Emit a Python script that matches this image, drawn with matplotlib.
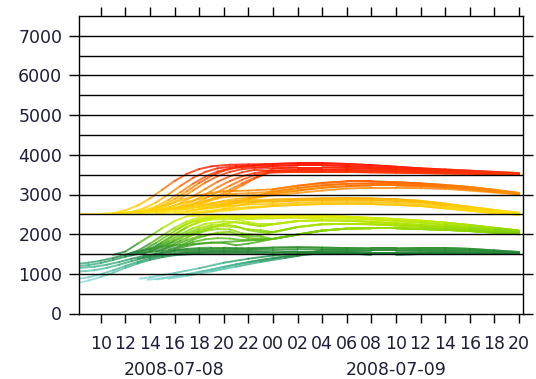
import numpy as np
import matplotlib
matplotlib.use("Agg")
import matplotlib.pyplot as plt
from matplotlib.collections import LineCollection
from matplotlib.colors import LinearSegmentedColormap, Normalize
from matplotlib.transforms import blended_transform_factory

# x in hours counted from 2008-07-08 00:00
tail_t = [24, 26, 28, 30, 32, 34, 36, 38, 40, 42, 44]

# shared tails of each bundle (after the runs converge)
red_tail_a = [3770, 3790, 3790, 3770, 3740, 3700, 3660, 3630, 3600, 3570, 3540]
red_tail_b = [3720, 3740, 3740, 3720, 3690, 3660, 3630, 3600, 3580, 3550, 3530]
red_tail_c = [3660, 3680, 3680, 3670, 3650, 3620, 3600, 3580, 3560, 3540, 3520]
red_tail_d = [3600, 3620, 3620, 3620, 3600, 3590, 3570, 3560, 3540, 3530, 3510]
red_tail_e = [3560, 3570, 3570, 3570, 3560, 3550, 3540, 3530, 3520, 3510, 3500]

orange_tail_a = [3130, 3220, 3290, 3330, 3330, 3310, 3280, 3240, 3190, 3120, 3040]
orange_tail_b = [3070, 3160, 3230, 3270, 3280, 3270, 3250, 3210, 3160, 3100, 3030]
orange_tail_c = [3020, 3100, 3170, 3210, 3230, 3230, 3210, 3180, 3130, 3070, 3010]
orange_tail_d = [2980, 3040, 3100, 3150, 3170, 3170, 3160, 3140, 3100, 3050, 3000]

yellow_tail_a = [2870, 2890, 2900, 2910, 2900, 2880, 2840, 2770, 2690, 2610, 2540]
yellow_tail_b = [2820, 2850, 2860, 2870, 2860, 2840, 2800, 2730, 2650, 2580, 2520]
yellow_tail_c = [2760, 2790, 2810, 2820, 2810, 2790, 2750, 2690, 2620, 2550, 2500]
yellow_tail_d = [2710, 2740, 2760, 2770, 2760, 2740, 2710, 2650, 2590, 2530, 2490]

lime_tail_a = [2470, 2470, 2460, 2440, 2410, 2380, 2340, 2290, 2230, 2160, 2090]
lime_tail_b = [2400, 2420, 2420, 2400, 2370, 2330, 2290, 2240, 2180, 2120, 2060]
lime_tail_c = [2250, 2330, 2350, 2340, 2310, 2270, 2230, 2190, 2140, 2090, 2040]
lime_tail_d = [2050, 2180, 2250, 2260, 2250, 2220, 2190, 2150, 2110, 2060, 2020]
lime_tail_e = [1880, 1990, 2090, 2140, 2150, 2150, 2130, 2110, 2080, 2040, 2000]

green_tail_a = [1660, 1670, 1660, 1650, 1640, 1640, 1650, 1650, 1630, 1590, 1550]
green_tail_b = [1600, 1620, 1610, 1600, 1590, 1590, 1600, 1600, 1590, 1560, 1530]
green_tail_c = [1540, 1560, 1560, 1550, 1530, 1530, 1540, 1550, 1540, 1530, 1520]
green_tail_d = [1490, 1520, 1520, 1510, 1490, 1490, 1500, 1510, 1510, 1500, 1500]

# early part of each run: (hours, values, tail)
red_runs = [
    ([8.3, 10, 11, 12, 13, 14, 15, 16, 17, 18, 19, 20.5, 22],
     [2510, 2510, 2530, 2600, 2720, 2900, 3120, 3340, 3520, 3640, 3710, 3750, 3760], red_tail_a),
    ([11, 12.5, 13.5, 14.5, 15.5, 16.5, 17.5, 18.5, 19.5, 21, 22.5],
     [2530, 2560, 2650, 2800, 3000, 3220, 3420, 3570, 3660, 3720, 3730], red_tail_b),
    ([12, 13.5, 14.5, 15.5, 16.5, 17.5, 18.5, 19.5, 20.5, 22],
     [2540, 2590, 2700, 2860, 3060, 3270, 3450, 3580, 3660, 3700], red_tail_c),
    ([12.5, 14, 15, 16, 17, 18, 19, 20, 21, 22.5],
     [2550, 2610, 2720, 2880, 3080, 3290, 3470, 3600, 3680, 3740], red_tail_a),
    ([13, 14.5, 15.5, 16.5, 17.5, 18.5, 19.5, 20.5, 21.5, 23],
     [2560, 2620, 2740, 2900, 3100, 3300, 3460, 3570, 3640, 3680], red_tail_b),
    ([14, 15.5, 16.5, 17.5, 18.5, 19.5, 20.5, 21.5, 22.5],
     [2580, 2660, 2780, 2950, 3140, 3320, 3460, 3560, 3620], red_tail_d),
    ([15, 16.5, 17.5, 18.5, 19.5, 20.5, 21.5, 22.5, 23.5],
     [2600, 2700, 2830, 3000, 3180, 3340, 3460, 3540, 3590], red_tail_e),
    ([16, 17.5, 18.5, 19.5, 20.5, 21.5, 22.5, 23.5],
     [2640, 2760, 2900, 3060, 3220, 3370, 3490, 3560], red_tail_c),
    ([17, 18.5, 19.5, 20.5, 21.5, 22.5, 23.5],
     [2700, 2820, 2960, 3120, 3280, 3420, 3530], red_tail_e),
    ([18, 19.5, 20.5, 21.5, 22.5, 23.5],
     [2760, 2900, 3060, 3230, 3400, 3540], red_tail_d),
]

orange_runs = [
    ([12.5, 14, 15, 16, 17, 18, 19, 20, 21, 22],
     [2550, 2610, 2700, 2800, 2900, 2980, 3040, 3080, 3090, 3100], orange_tail_a),
    ([13.5, 15, 16, 17, 18, 19, 20, 21, 22],
     [2560, 2630, 2720, 2810, 2890, 2960, 3000, 3020, 3030], orange_tail_b),
    ([15, 16.5, 17.5, 18.5, 19.5, 20.5, 22],
     [2600, 2680, 2760, 2840, 2910, 2950, 2970], orange_tail_c),
    ([16.5, 18, 19, 20, 21, 22, 23],
     [2620, 2700, 2770, 2840, 2890, 2920, 2950], orange_tail_d),
    ([18, 19.5, 20.5, 21.5, 22.5, 23.5],
     [2640, 2730, 2800, 2860, 2910, 2960], orange_tail_c),
    ([19, 20.5, 21.5, 22.5, 23.5],
     [2660, 2760, 2850, 2930, 3000], orange_tail_a),
    ([20, 21, 22, 23],
     [2700, 2800, 2900, 2990], orange_tail_b),
]

yellow_runs = [
    ([11.5, 13, 14.5, 16, 17.5, 19, 20.5, 22],
     [2520, 2540, 2580, 2640, 2710, 2780, 2830, 2860], yellow_tail_a),
    ([13, 14.5, 16, 17.5, 19, 20.5, 22],
     [2520, 2550, 2600, 2660, 2730, 2780, 2810], yellow_tail_b),
    ([14.5, 16, 17.5, 19, 20.5, 22],
     [2520, 2550, 2600, 2660, 2710, 2750], yellow_tail_c),
    ([16, 17.5, 19, 20.5, 22],
     [2520, 2550, 2590, 2640, 2680], yellow_tail_d),
    ([17.5, 19, 20.5, 22],
     [2530, 2560, 2600, 2650], yellow_tail_d),
    ([18.5, 20, 21.5, 23],
     [2560, 2640, 2740, 2830], yellow_tail_a),
    ([17, 18.5, 20, 21.5, 23],
     [2580, 2660, 2740, 2800, 2840], yellow_tail_b),
]

lime_runs = [
    ([11, 12, 13, 14, 15, 16, 17, 19, 21, 23],
     [1480, 1560, 1760, 1950, 2150, 2330, 2450, 2480, 2480, 2470], lime_tail_a),
    ([12, 13, 14, 15, 16, 17, 18, 20, 22],
     [1480, 1580, 1760, 1960, 2160, 2320, 2420, 2450, 2440], lime_tail_b),
    ([12.5, 13.5, 14.5, 15.5, 16.5, 17.5, 19, 21, 22.5],
     [1470, 1600, 1780, 1980, 2170, 2330, 2420, 2430, 2400], lime_tail_a),
    ([13, 14, 15, 16, 17, 18, 19, 21, 22, 23],
     [1500, 1620, 1800, 2000, 2180, 2300, 2370, 2380, 2300, 2250], lime_tail_c),
    ([13.5, 14.5, 15.5, 16.5, 17.5, 18.5, 20, 21.5, 23],
     [1510, 1640, 1820, 2000, 2150, 2260, 2320, 2280, 2200], lime_tail_c),
    ([14, 15, 16, 17, 18, 19, 20, 21, 22, 23],
     [1550, 1680, 1850, 2020, 2150, 2230, 2250, 2200, 2100, 2050], lime_tail_d),
    ([14.5, 15.5, 16.5, 17.5, 18.5, 19.5, 20.5, 21.5, 23],
     [1560, 1690, 1840, 1980, 2080, 2130, 2120, 2020, 1980], lime_tail_d),
    ([15, 16, 17, 18, 19, 20, 21, 22, 23],
     [1600, 1720, 1850, 1950, 2000, 2000, 1980, 1900, 1880], lime_tail_e),
    ([15.5, 16.5, 17.5, 18.5, 19.5, 20.5, 21.5, 23],
     [1610, 1700, 1800, 1870, 1900, 1890, 1850, 1860], lime_tail_e),
    ([16, 17, 18, 19, 20, 21, 22, 23],
     [1620, 1700, 1760, 1790, 1780, 1720, 1760, 1820], lime_tail_e),
    ([14, 15, 16, 17, 18, 19, 20, 21, 22],
     [1600, 1780, 1980, 2170, 2320, 2400, 2420, 2400, 2380], lime_tail_b),
    ([15, 16, 17, 18, 19, 20, 21, 22, 23],
     [1680, 1820, 1980, 2100, 2180, 2200, 2180, 2120, 2100], lime_tail_d),
    ([16.5, 17.5, 18.5, 19.5, 20.5, 21.5, 23],
     [1720, 1860, 1960, 2040, 2060, 1960, 1940], lime_tail_e),
    ([17, 18, 19, 20, 21, 22, 23],
     [1940, 2060, 2150, 2260, 2310, 2250, 2200], lime_tail_c),
    ([16, 17, 18, 19, 20, 21, 22],
     [2100, 2260, 2360, 2440, 2470, 2460, 2450], lime_tail_a),
]

green_runs = [
    ([8.3, 9, 10, 11, 12, 13, 14, 15, 16, 18, 20, 22],
     [1200, 1220, 1270, 1350, 1430, 1500, 1550, 1580, 1600, 1620, 1640, 1650], green_tail_a),
    ([8.3, 9.5, 10.5, 11.5, 12.5, 13.5, 14.5, 16, 18, 20, 22],
     [1150, 1180, 1230, 1300, 1380, 1450, 1510, 1560, 1590, 1600, 1610], green_tail_b),
    ([8.3, 9, 10, 11, 12, 13, 14, 15],
     [1260, 1280, 1330, 1400, 1480, 1560, 1640, 1700], lime_tail_e),
    ([8.3, 9.5, 10.5, 11.5, 12.5, 13.5, 15, 17, 19, 21, 22],
     [1060, 1090, 1150, 1230, 1320, 1400, 1480, 1540, 1570, 1580, 1580], green_tail_c),
    ([13, 14, 15, 16, 17, 18, 19, 20, 21, 22],
     [1380, 1450, 1530, 1590, 1630, 1650, 1660, 1660, 1640, 1620], green_tail_a),
    ([8.3, 9, 10, 11, 12, 13, 14, 15, 16, 18, 20, 22],
     [780, 830, 920, 1030, 1150, 1260, 1350, 1420, 1470, 1510, 1520, 1520], green_tail_d),
    ([8.3, 9, 10, 11, 12, 13, 14, 15, 16, 18, 20, 22],
     [880, 910, 990, 1090, 1200, 1300, 1390, 1460, 1500, 1540, 1550, 1550], green_tail_c),
    ([13.2, 14, 16, 18, 20, 22, 24, 26],
     [880, 910, 1020, 1140, 1280, 1380, 1460, 1520], green_tail_c),
    ([13.8, 15, 17, 19, 21, 23, 25, 26],
     [850, 890, 990, 1110, 1240, 1350, 1440, 1480], green_tail_d),
    ([14.5, 16, 18, 20, 22, 24, 26],
     [860, 920, 1040, 1170, 1290, 1390, 1460], green_tail_d),
    ([15.5, 17, 19, 21, 23, 25, 26],
     [880, 950, 1060, 1180, 1300, 1400, 1450], green_tail_b),
]

x_ticks = list(range(10, 45, 2))
day_labels = ["2008-07-08", "2008-07-09"]
day_label_pos = [16, 34]

plt.rcParams["font.family"] = ["DejaVu Sans"]

cmap = LinearSegmentedColormap.from_list("vals", [
    (0.0, "#a6e2e6"), (0.065, "#80d3cf"), (0.13, "#55c0a8"), (0.19, "#35a878"),
    (0.258, "#24843c"), (0.306, "#2f8f30"), (0.355, "#4aae1c"), (0.419, "#78cc08"),
    (0.484, "#a4e000"), (0.548, "#ccee00"), (0.58, "#ffe600"), (0.629, "#ffd000"),
    (0.694, "#ffb800"), (0.742, "#ff9a00"), (0.806, "#ff7c00"), (0.871, "#ff5000"),
    (0.935, "#ff2a00"), (1.0, "#ff1000")])
norm = Normalize(700, 3800)

fig = plt.figure(figsize=(5.36, 3.79), dpi=100)
ax = fig.add_axes([79 / 536, 1 - 313.5 / 379, 444 / 536, 297.5 / 379])

segs = []
vals = []
for runs in [green_runs, lime_runs, yellow_runs, orange_runs, red_runs]:
    for t, v, tail in runs:
        tt = list(t) + [a for a in tail_t if a > t[-1]]
        vv = list(v) + [b for a, b in zip(tail_t, tail) if a > t[-1]]
        for i in range(len(tt) - 1):
            segs.append([(tt[i], vv[i]), (tt[i + 1], vv[i + 1])])
            vals.append((vv[i] + vv[i + 1]) / 2)

lc = LineCollection(segs, colors=cmap(norm(np.array(vals))), linewidths=1.4,
                    alpha=0.8, capstyle="round", zorder=2)
ax.add_collection(lc)

for g in np.arange(500, 7001, 500):
    ax.axhline(g, color="black", lw=1.0, zorder=3)

ax.set_xlim(8.236, 44.33)
ax.set_ylim(0, 7500)
ax.set_yticks(range(0, 7001, 1000))
ax.set_xticks(x_ticks)
ax.set_xticklabels(["%02d" % (h % 24) for h in x_ticks])
for s in ax.spines.values():
    s.set_linewidth(1.0)
ax.tick_params(axis="y", which="both", left=True, right=True, labelright=False,
               direction="out", length=7, width=1.0, pad=5, labelsize=12.5,
               labelcolor="#1e1e3a")
ax.tick_params(axis="x", which="both", bottom=True, top=True, labeltop=False,
               direction="out", length=6.5, width=1.0, pad=9, labelsize=12.5,
               labelcolor="#1e1e3a")

tr = blended_transform_factory(ax.transData, ax.transAxes)
for lab, pos in zip(day_labels, day_label_pos):
    ax.text(pos, -0.19, lab, transform=tr, ha="center", va="center",
            fontsize=12.5, color="#1e1e3a")

fig.savefig("out.png", dpi=100)
